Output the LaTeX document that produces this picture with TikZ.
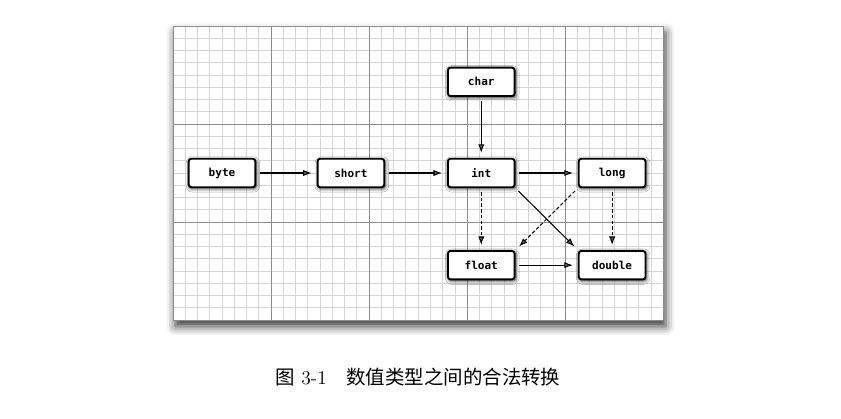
\documentclass[tikz,border=0pt]{standalone}
\usepackage{fontspec}
\setmonofont{DejaVu Sans Mono}
\newfontfamily\cjk{Noto Sans CJK SC}
\usepackage{tikz}
\usetikzlibrary{arrows.meta,shadows.blur}

\tikzset{
  typebox/.style={draw, line width=1.1pt, rounded corners=1.5pt, fill=white,
    minimum width=1.36cm, minimum height=0.58cm, inner sep=0pt,
    font=\ttfamily\bfseries\fontsize{6.4}{7}\selectfont,
    blur shadow={shadow xshift=0.02cm, shadow yshift=-0.03cm, shadow blur radius=0.07cm, shadow opacity=85}},
  conv/.style={->, line width=0.6pt, shorten <=0.08cm, shorten >=0.1cm},
  lossy/.style={conv, dash pattern=on 2pt off 1.3pt},
}

\begin{document}
\begin{tikzpicture}[>={Latex[length=5pt,width=3.6pt]}]
    \useasboundingbox (-3.53,-2.0) rectangle (13.63,6.53);

    % Paper with grid
    \fill[white, blur shadow={shadow xshift=0.05cm, shadow yshift=-0.13cm, shadow blur radius=0.18cm, shadow opacity=80}] (0,0) rectangle (10,6);
    \draw[black!17, line width=0.35pt] (0,0) grid[step=0.25] (10,6);
    \draw[black!45, line width=0.4pt] (0,0) grid[step=2] (10,6);

    % Types
    \node[typebox] (byte)   at (1.0,3.0)  {byte};
    \node[typebox] (short)  at (3.63,3.0) {short};
    \node[typebox] (int)    at (6.29,3.0) {int};
    \node[typebox] (char)   at (6.29,4.86) {char};
    \node[typebox] (long)   at (8.96,3.0) {long};
    \node[typebox] (float)  at (6.29,1.12) {float};
    \node[typebox] (double) at (8.96,1.12) {double};

    % Conversions without loss
    \draw[conv] (byte) -- (short);
    \draw[conv] (short) -- (int);
    \draw[conv] (int) -- (long);
    \draw[conv] (char) -- (int);
    \draw[conv] (int.south east) -- (double.north west);
    \draw[conv] (float) -- (double);

    % Conversions with possible loss
    \draw[lossy] (int) -- (float);
    \draw[lossy] (long.south west) -- (float.north east);
    \draw[lossy] (long) -- (double);

    % Caption
    \node[font=\fontsize{11.3}{13}\selectfont] (caption) at (5.0,-1.16) {{\cjk 图} 3-1\quad{\cjk 数值类型之间的合法转换}};
\end{tikzpicture}
\end{document}
